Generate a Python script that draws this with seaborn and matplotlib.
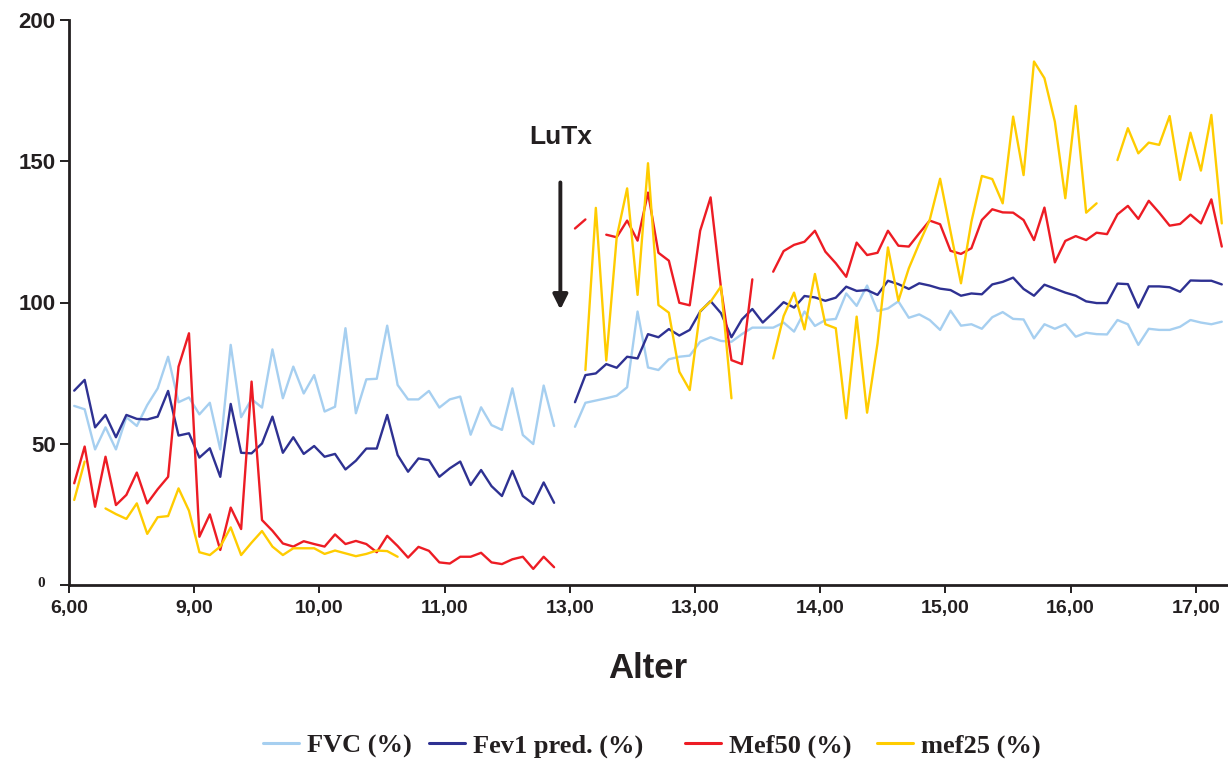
import numpy as np
import pandas as pd
import matplotlib
matplotlib.use("Agg")
import matplotlib.pyplot as plt
from matplotlib.lines import Line2D
import seaborn as sns

nan = np.nan

# Lung function values per visit (percent of predicted); NaN = no measurement
fvc = [63.4, 62.2, 48.0, 55.8, 48.0, 59.4, 56.3, 63.7, 69.6, 80.8,
       64.7, 66.4, 60.4, 64.5, 48.0, 85.0, 59.4, 65.8, 62.8, 83.4,
       66.1, 77.3, 67.8, 74.3, 61.4, 63.1, 90.9, 60.8, 72.8, 73.0,
       91.8, 70.8, 65.7, 65.7, 68.7, 62.8, 65.7, 66.7, 53.2, 62.9,
       56.6, 54.9, 69.6, 53.1, 49.9, 70.6, 56.3, nan, 56.0, 64.5,
       65.3, 66.1, 67.0, 70.0, 96.8, 77.0, 76.1, 79.9, 80.8, 81.2,
       86.1, 87.7, 86.4, 86.1, 88.8, 91.1, 91.1, 91.1, 92.9, 89.7,
       96.8, 91.7, 93.8, 94.2, 103.2, 98.8, 106.0, 97.0, 97.9, 100.4,
       94.6, 95.8, 93.8, 90.3, 97.1, 91.8, 92.3, 90.7, 94.8, 96.6,
       94.2, 94.0, 87.3, 92.3, 90.7, 92.3, 87.9, 89.3, 88.8, 88.7,
       93.8, 92.3, 85.0, 90.7, 90.3, 90.3, 91.4, 93.8, 92.9, 92.3,
       93.2]

fev1 = [68.8, 72.6, 55.8, 60.2, 52.3, 60.2, 58.8, 58.6, 59.6, 68.7,
        52.9, 53.7, 45.1, 48.4, 38.3, 64.1, 46.8, 46.6, 50.1, 59.6,
        46.8, 52.3, 46.4, 49.2, 45.4, 46.4, 40.9, 44.0, 48.3, 48.3,
        60.2, 46.0, 40.1, 44.8, 44.2, 38.3, 41.3, 43.7, 35.4, 40.7,
        35.0, 31.5, 40.4, 31.5, 28.7, 36.3, 29.1, nan, 64.7, 74.3,
        74.9, 78.2, 76.9, 80.8, 80.2, 88.8, 87.7, 90.6, 88.3, 90.3,
        96.8, 100.5, 96.2, 87.7, 94.0, 97.7, 92.9, 96.4, 100.1, 98.2,
        102.3, 101.8, 100.6, 101.7, 105.6, 104.1, 104.4, 102.7, 107.7, 106.5,
        104.8, 106.8, 106.0, 104.9, 104.4, 102.4, 103.2, 102.9, 106.4, 107.3,
        108.8, 104.8, 102.4, 106.3, 104.9, 103.5, 102.4, 100.4, 99.8, 99.8,
        106.7, 106.5, 98.2, 105.7, 105.7, 105.4, 103.8, 107.8, 107.7, 107.7,
        106.4]

mef50 = [36.0, 49.0, 27.7, 45.4, 28.3, 31.9, 39.8, 28.9, 33.9, 38.3,
         77.3, 89.1, 17.1, 25.0, 12.4, 27.4, 19.8, 72.0, 23.0, 19.2,
         14.7, 13.6, 15.5, 14.5, 13.6, 17.9, 14.5, 15.6, 14.5, 11.6,
         17.4, 13.8, 9.7, 13.5, 12.1, 8.0, 7.6, 10.0, 10.0, 11.4,
         8.0, 7.4, 9.1, 10.0, 5.7, 10.0, 6.3, nan, 126.2, 129.4,
         nan, 124.0, 123.1, 129.0, 121.9, 138.9, 117.6, 114.8, 99.9, 99.0,
         125.4, 137.2, 105.0, 79.6, 78.2, 108.2, nan, 110.9, 118.2, 120.4,
         121.5, 125.4, 118.0, 113.9, 109.1, 121.2, 116.8, 117.6, 125.4, 120.1,
         119.8, 124.5, 129.0, 127.7, 118.3, 117.2, 119.2, 129.2, 133.0, 131.9,
         131.8, 129.2, 122.1, 133.6, 114.2, 121.8, 123.5, 122.1, 124.7, 124.2,
         131.2, 134.2, 129.6, 136.0, 131.8, 127.2, 127.8, 131.1, 128.0, 136.5,
         119.8]

mef25 = [30.1, 43.7, nan, 27.1, 25.1, 23.4, 28.9, 18.1, 24.0, 24.4,
         34.2, 26.3, 11.6, 10.6, 13.6, 20.4, 10.6, 15.0, 19.1, 13.6,
         10.6, 13.0, 13.0, 13.0, 11.0, 12.2, 11.2, 10.2, 11.0, 12.2,
         12.0, 10.0, nan, nan, nan, nan, nan, nan, nan, nan,
         nan, nan, nan, nan, nan, nan, nan, nan, nan, 76.1,
         133.5, 79.5, 123.1, 140.4, 102.7, 149.3, 99.1, 96.4, 75.5, 69.0,
         97.0, 100.3, 105.7, 66.1, nan, nan, nan, 80.2, 95.2, 103.5,
         90.5, 110.1, 92.3, 90.9, 59.0, 95.0, 61.0, 85.5, 119.5, 100.6,
         112.1, 120.9, 129.2, 143.8, 125.1, 106.8, 128.6, 144.8, 143.7, 135.1,
         165.8, 145.1, 185.3, 179.4, 164.0, 136.9, 169.6, 131.8, 135.1, nan,
         150.4, 161.7, 152.8, 156.6, 155.8, 166.0, 143.4, 160.1, 146.7, 166.4,
         128.0]

series_names = ["FVC (%)", "Fev1 pred. (%)", "Mef50 (%)", "mef25 (%)"]
series_colors = ["#a6cff0", "#2e3192", "#ed1c24", "#ffcc00"]
age_labels = ["6,00", "9,00", "10,00", "11,00", "13,00",
              "13,00", "14,00", "15,00", "16,00", "17,00"]
y_ticks = [0, 50, 100, 150, 200]

sns.set_theme(style="white")
plt.rcParams["font.family"] = ["Liberation Sans", "DejaVu Sans"]
ink = "#231f20"

# Long table; each uninterrupted run of measurements becomes its own segment
rows = []
for name, vals in zip(series_names, [fvc, fev1, mef50, mef25]):
    seg = 0
    gap = True
    for i, v in enumerate(vals):
        if np.isnan(v):
            gap = True
            continue
        if gap:
            seg += 1
            gap = False
        rows.append((i, v, name, f"{name}-{seg}"))
df = pd.DataFrame(rows, columns=["visit", "value", "series", "segment"])

n_visits = len(fvc)

fig = plt.figure(figsize=(12.28, 7.6), dpi=100)
ax = fig.add_axes([69 / 1228, 175 / 760, 1158 / 1228, 565 / 760])

sns.lineplot(data=df, x="visit", y="value", hue="series", units="segment",
             estimator=None, hue_order=series_names,
             palette=dict(zip(series_names, series_colors)),
             linewidth=1.7, legend=False, sort=False, ax=ax)

ax.set_xlim(-0.5, n_visits - 0.5)
ax.set_ylim(0, 200)
ax.set_xlabel("")
ax.set_ylabel("")

for side in ("top", "right"):
    ax.spines[side].set_visible(False)
for side in ("left", "bottom"):
    ax.spines[side].set_color(ink)
    ax.spines[side].set_linewidth(2.0)

xt = [-0.5 + 12 * k for k in range(len(age_labels))]
ax.set_xticks(xt)
ax.set_xticklabels(age_labels, fontsize=14, fontweight="bold", color=ink)
ax.tick_params(axis="x", direction="out", length=6, width=1.4, pad=5,
               color=ink, bottom=True)

# The zero label is set apart in a small serif face, further from the axis
ax.set_yticks(y_ticks)
ax.set_yticklabels(["" if t == 0 else str(t) for t in y_ticks],
                   fontsize=16, fontweight="bold", color=ink)
ax.tick_params(axis="y", direction="out", length=6.5, width=1.4, pad=3,
               color=ink, left=True)
ax.annotate(str(y_ticks[0]), xy=(0, y_ticks[0]),
            xycoords=("axes fraction", "data"),
            xytext=(-17, 1), textcoords="offset points",
            ha="right", va="center", fontsize=11, fontweight="bold",
            family=["Liberation Serif", "DejaVu Serif"], color=ink,
            annotation_clip=False)

# Transplant marker
ax.annotate("", xy=(46.6, 97.5), xytext=(46.6, 142.5),
            arrowprops=dict(arrowstyle="-|>", color=ink, lw=2.8,
                            mutation_scale=22, shrinkA=0, shrinkB=0))
ax.text(46.6, 158.5, "LuTx", ha="center", va="center",
        fontsize=19, fontweight="bold", color=ink)

fig.text(648 / 1228, 1 - 668 / 760, "Alter", ha="center", va="center",
         fontsize=25, fontweight="bold", color=ink)

# Legend entries laid out individually along the bottom
legend_x = [263, 429, 685, 877]
legend_font = {"family": ["Liberation Serif", "DejaVu Serif"],
               "weight": "bold", "size": 19}
for name, col, x0 in zip(series_names, series_colors, legend_x):
    leg = fig.legend([Line2D([0], [0], color=col, lw=2.2)], [name],
                     loc="center left", bbox_to_anchor=(x0 / 1228, 14 / 760),
                     frameon=False, borderpad=0, borderaxespad=0,
                     handlelength=1.36, handletextpad=0.3, prop=legend_font)
    for t in leg.get_texts():
        t.set_color(ink)

fig.savefig("out.png", dpi=100, facecolor="white")
